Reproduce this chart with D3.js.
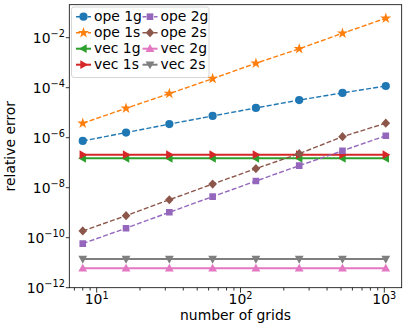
<!DOCTYPE html>
<html>
<head>
<meta charset="utf-8">
<script src="https://cdn.jsdelivr.net/npm/d3@7"></script>
<style>
  body { margin: 0; background: #fff; }
  text { font-family: "DejaVu Sans", sans-serif; fill: #000; }
</style>
</head>
<body>
<div id="chart"></div>
<script>
// data
var grids = [8, 16, 32, 64, 128, 256, 512, 1024];
var ope1g = [7.4e-7, 1.6e-6, 3.5e-6, 7.4e-6, 1.55e-5, 3.2e-5, 6.2e-5, 1.17e-4];
var ope1s = [3.8e-6, 1.5e-5, 5.8e-5, 2.3e-4, 9.5e-4, 3.6e-3, 1.5e-2, 6.0e-2];
var vec1g = [1.5e-7, 1.5e-7, 1.5e-7, 1.5e-7, 1.5e-7, 1.5e-7, 1.5e-7, 1.5e-7];
var vec1s = [2.1e-7, 2.1e-7, 2.1e-7, 2.1e-7, 2.1e-7, 2.1e-7, 2.1e-7, 2.1e-7];
var ope2g = [5.8e-11, 2.4e-10, 1.04e-9, 4.4e-9, 1.85e-8, 7.6e-8, 3.0e-7, 1.2e-6];
var ope2s = [1.86e-10, 7.6e-10, 3.3e-9, 1.4e-8, 5.8e-8, 2.3e-7, 1.1e-6, 3.8e-6];
var vec2g = [6.0e-12, 6.0e-12, 6.0e-12, 6.0e-12, 6.0e-12, 6.0e-12, 6.0e-12, 6.0e-12];
var vec2s = [1.4e-11, 1.4e-11, 1.4e-11, 1.4e-11, 1.4e-11, 1.4e-11, 1.4e-11, 1.4e-11];

var xTicks = [10, 100, 1000];
var xTickExp = ["1", "2", "3"];
var yTicks = [1e-12, 1e-10, 1e-8, 1e-6, 1e-4, 1e-2];
var yTickExp = ["\u221212", "\u221210", "\u22128", "\u22126", "\u22124", "\u22122"];

var series = [
  {name: "ope 1g", values: ope1g, color: "#1f77b4", sym: "circle", dash: true},
  {name: "ope 1s", values: ope1s, color: "#ff7f0e", sym: "star", dash: true},
  {name: "vec 1g", values: vec1g, color: "#2ca02c", sym: "tleft", dash: false},
  {name: "vec 1s", values: vec1s, color: "#d62728", sym: "tright", dash: false},
  {name: "ope 2g", values: ope2g, color: "#9467bd", sym: "square", dash: true},
  {name: "ope 2s", values: ope2s, color: "#8c564b", sym: "diamond", dash: true},
  {name: "vec 2g", values: vec2g, color: "#e377c2", sym: "tup", dash: false},
  {name: "vec 2s", values: vec2s, color: "#7f7f7f", sym: "tdown", dash: false}
];

var outerWidth = 407, outerHeight = 331;
var margin = {top: 4.7, right: 5.3, bottom: 43.3, left: 69.3};
var width = outerWidth - margin.left - margin.right,
    height = outerHeight - margin.top - margin.bottom;

var svg = d3.select("#chart").append("svg")
  .attr("width", outerWidth)
  .attr("height", outerHeight);

var g = svg.append("g")
  .attr("transform", "translate(" + margin.left + "," + margin.top + ")");

var xScale = d3.scaleLog()
  .domain([Math.pow(10, 0.8095), Math.pow(10, 3.121)])
  .range([0, width]);

var yScale = d3.scaleLog()
  .domain([1e-12, Math.pow(10, -0.68)])
  .range([height, 0]);

// marker shapes
function markerPath(sym) {
  var r = 4.1;
  if (sym === "circle") return d3.symbol().type(d3.symbolCircle).size(Math.PI * r * r)();
  if (sym === "star") return d3.symbol().type(d3.symbolStar).size(38)();
  if (sym === "square") return d3.symbol().type(d3.symbolSquare).size(44)();
  if (sym === "diamond") return "M0,-4.6L4.3,0L0,4.6L-4.3,0Z";
  if (sym === "tup") return "M0,-4.6L4.4,3.2L-4.4,3.2Z";
  if (sym === "tdown") return "M0,4.6L4.4,-3.2L-4.4,-3.2Z";
  if (sym === "tleft") return "M-4.6,0L3.2,-4.4L3.2,4.4Z";
  if (sym === "tright") return "M4.6,0L-3.2,-4.4L-3.2,4.4Z";
}

var plot = g.append("g");
plot.append("clipPath").attr("id", "clip")
  .append("rect").attr("width", width).attr("height", height);

var line = d3.line()
  .x(function (d, i) { return xScale(grids[i]); })
  .y(function (d) { return yScale(d); });

series.forEach(function (s) {
  var sg = plot.append("g").attr("clip-path", "url(#clip)");
  sg.append("path")
    .attr("d", line(s.values))
    .attr("fill", "none")
    .attr("stroke", s.color)
    .attr("stroke-width", s.dash ? 1.4 : 2)
    .attr("stroke-dasharray", s.dash ? "5,2.2" : null);
  sg.selectAll("path.mk")
    .data(s.values)
    .enter()
    .append("path")
    .attr("class", "mk")
    .attr("transform", function (d, i) {
      return "translate(" + xScale(grids[i]) + "," + yScale(d) + ")";
    })
    .attr("d", markerPath(s.sym))
    .attr("fill", s.color);
});

// x axis ticks (major + minor)
var xAxisG = g.append("g").attr("transform", "translate(0," + height + ")");
var xMinor = [];
[1, 10, 100, 1000].forEach(function (dec) {
  for (var k = 2; k <= 9; k++) {
    var v = dec * k;
    if (v > xScale.domain()[0] && v < xScale.domain()[1]) xMinor.push(v);
  }
});
xAxisG.selectAll("line.minor").data(xMinor).enter().append("line")
  .attr("x1", function (d) { return xScale(d); })
  .attr("x2", function (d) { return xScale(d); })
  .attr("y1", 0).attr("y2", 2.8)
  .attr("stroke", "#000").attr("stroke-width", 0.8);
xAxisG.selectAll("line.major").data(xTicks).enter().append("line")
  .attr("x1", function (d) { return xScale(d); })
  .attr("x2", function (d) { return xScale(d); })
  .attr("y1", 0).attr("y2", 4.9)
  .attr("stroke", "#000").attr("stroke-width", 0.8);
var xl = xAxisG.selectAll("text.tl").data(xTicks).enter().append("text")
  .attr("class", "tl")
  .attr("x", function (d) { return xScale(d); })
  .attr("y", 16.5)
  .attr("text-anchor", "middle")
  .style("font-size", "13.9px");
xl.append("tspan").text("10");
xl.append("tspan").attr("dy", -5.5).style("font-size", "9.7px")
  .text(function (d, i) { return xTickExp[i]; });

// y axis ticks
var yAxisG = g.append("g");
yAxisG.selectAll("line.major").data(yTicks).enter().append("line")
  .attr("x1", -3.5).attr("x2", 0)
  .attr("y1", function (d) { return yScale(d); })
  .attr("y2", function (d) { return yScale(d); })
  .attr("stroke", "#000").attr("stroke-width", 0.8);
var yl = yAxisG.selectAll("text.tl").data(yTicks).enter().append("text")
  .attr("class", "tl")
  .attr("x", -4.5)
  .attr("y", function (d) { return yScale(d) + 4.9; })
  .attr("text-anchor", "end")
  .style("font-size", "13.9px");
yl.append("tspan").text("10");
yl.append("tspan").attr("dy", -5.5).style("font-size", "9.7px")
  .text(function (d, i) { return yTickExp[i]; });

// frame
g.append("rect")
  .attr("width", width).attr("height", height)
  .attr("fill", "none").attr("stroke", "#000").attr("stroke-width", 0.8);

// axis labels
svg.append("text")
  .attr("x", margin.left + width / 2)
  .attr("y", 319.5)
  .attr("text-anchor", "middle")
  .style("font-size", "13.9px")
  .text("number of grids");

svg.append("text")
  .attr("transform", "translate(15," + (margin.top + height / 2) + ") rotate(-90)")
  .attr("text-anchor", "middle")
  .style("font-size", "13.9px")
  .text("relative error");

// legend
var leg = svg.append("g").attr("transform", "translate(71.5,7)");
leg.append("rect")
  .attr("width", 137.5).attr("height", 70.5)
  .attr("rx", 2.5)
  .attr("fill", "#fff").attr("fill-opacity", 0.8)
  .attr("stroke", "#cccccc").attr("stroke-width", 0.8);
series.forEach(function (s, i) {
  var col = Math.floor(i / 4), row = i % 4;
  var lx = 4.5 + col * 66.5, ly = 9.7 + row * 16;
  var it = leg.append("g").attr("transform", "translate(" + lx + "," + ly + ")");
  it.append("line")
    .attr("x1", 0).attr("x2", 15)
    .attr("stroke", s.color)
    .attr("stroke-width", s.dash ? 1.4 : 2)
    .attr("stroke-dasharray", s.dash ? "4,1.8" : null);
  it.append("path")
    .attr("transform", "translate(7.5,0)")
    .attr("d", markerPath(s.sym))
    .attr("fill", s.color);
  it.append("text")
    .attr("x", 18)
    .attr("y", 4.7)
    .style("font-size", "13.9px")
    .text(s.name);
});
</script>
</body>
</html>
